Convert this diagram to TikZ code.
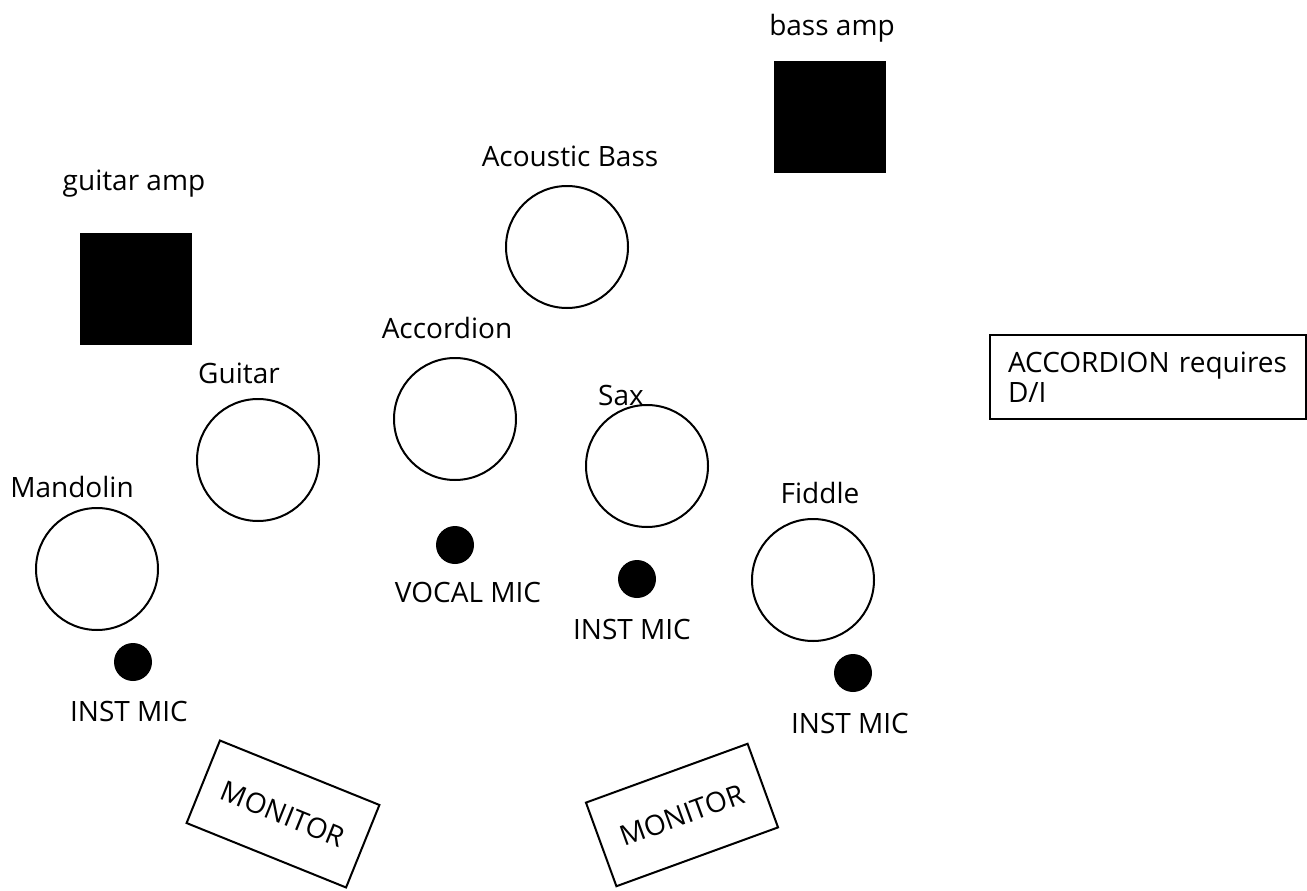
\documentclass[tikz,border=0pt]{standalone}
\usepackage{fontspec}
\setmainfont{Open Sans}
\begin{document}
\begin{tikzpicture}[x=1pt,y=-1pt,
  every node/.style={font=\fontsize{28}{30}\selectfont},
  inst/.style={draw,circle,line width=2pt,minimum size=122pt,inner sep=0pt},
  amp/.style={fill=black,minimum size=112pt,inner sep=0pt},
  mic/.style={fill=black,circle,minimum size=38pt,inner sep=0pt},
  lbl/.style={anchor=base,inner sep=0pt},
  monitor/.style={draw,line width=2pt,minimum width=172pt,minimum height=89pt,inner sep=0pt}]
\useasboundingbox (0,0) rectangle (1307,891);
% amps
\node[amp] (bassamp) at (830,117) {};
\node[lbl] (bassamplbl) at (832,36) {bass amp};
\node[amp] (gtramp) at (136,289) {};
\node[lbl] (gtramplbl) at (134,190) {guitar amp};
% players
\node[inst] (acbass) at (567,247) {};
\node[lbl] (acbasslbl) at (570,166) {Acoustic Bass};
\node[inst] (accord) at (455,419) {};
\node[lbl] (accordlbl) at (447,338) {Accordion};
\node[inst] (guitar) at (258,460) {};
\node[lbl] (guitarlbl) at (239,383) {Guitar};
\node[inst] (sax) at (647,466) {};
\node[lbl] (saxlbl) at (621,405) {Sax};
\node[inst] (mando) at (97,569) {};
\node[lbl] (mandolbl) at (72,497) {Mandolin};
\node[inst] (fiddle) at (813,580) {};
\node[lbl] (fiddlelbl) at (820,503) {Fiddle};
% mics
\node[mic] (vocmic) at (455,545) {};
\node[lbl] (vocmiclbl) at (468,602) {VOCAL MIC};
\node[mic] (saxmic) at (637,579) {};
\node[lbl] (saxmiclbl) at (632,639) {INST MIC};
\node[mic] (mandomic) at (133,662) {};
\node[lbl] (mandomiclbl) at (129,721) {INST MIC};
\node[mic] (fiddlemic) at (853,673) {};
\node[lbl] (fiddlemiclbl) at (850,733) {INST MIC};
% monitors
\node[monitor,rotate=-22] (monleft) at (283,814) {MONITOR};
\node[monitor,rotate=20] (monright) at (682,815) {MONITOR};
% note
\node[draw,line width=2pt,anchor=north west,text width=280pt,align=left,
  inner xsep=18pt,inner ysep=0pt,minimum height=84pt] (note) at (989,334) {ACCORDION requires\\D/I};
\end{tikzpicture}
\end{document}
